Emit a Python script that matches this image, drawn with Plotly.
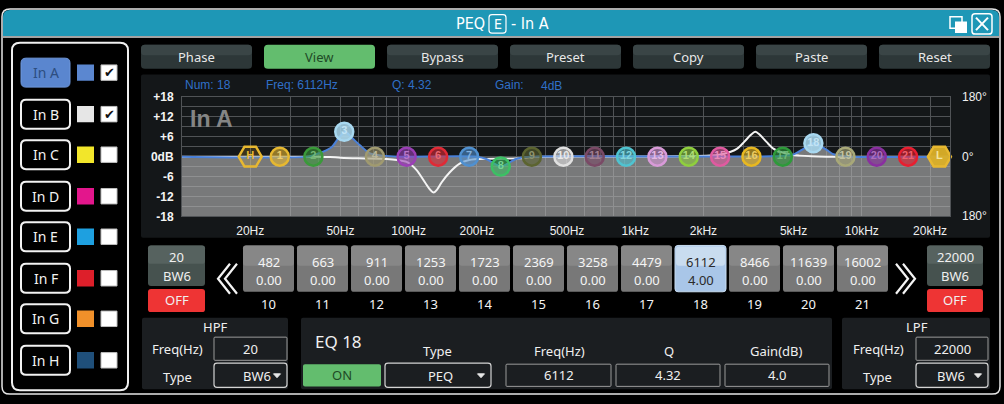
import math
import plotly.graph_objects as go

W, H = 1004, 404

# ---------------- data ----------------
band_nums = list(range(1, 22))
band_freqs = [27, 38, 52, 71, 98, 135, 185, 255, 350, 482, 663, 911, 1253, 1723,
              2369, 3258, 4479, 6112, 8466, 11639, 16002]
band_gains = [0, 0, 7.5, 0, 0, 0, 0, -3, 0, 0, 0, 0, 0, 0,
              0, 0, 0, 4, 0, 0, 0]
band_colors = ["#e6b830", "#3a9a3a", "#a8d8f0", "#a09a70", "#9a3fb5", "#e02a36",
               "#4f90d0", "#3cc064", "#5c6430", "#e0e0e0", "#7a4a66", "#4fc3d0",
               "#d89ad8", "#8fcf3e", "#e05aa0", "#e8b820", "#2e9a3a", "#a8d8f0",
               "#a8a878", "#8a2fa0", "#e81e30"]
selected_band = 18
hpf_freq, hpf_type = 20, "BW6"
lpf_freq, lpf_type = 22000, "BW6"
sel_q, sel_type = 4.32, "PEQ"

strip_first = 10  # first band shown in strip

# In A response (blue)
curve_a_freq = [10, 36, 39, 42, 45.8, 49, 52.5, 56, 61, 67.6, 77, 90, 200, 220, 240,
                255, 272, 295, 320, 350, 4000, 4500, 4980, 5460, 6112, 6970, 7500,
                8100, 8600, 24500]
curve_a_db = [0, 0, 0.7, 1.5, 2.9, 5.5, 7.5, 5.8, 3.4, 1.0, 0.3, 0, 0, -0.7, -2.2,
              -3.0, -2.2, -0.8, -0.2, 0, 0.1, 0.3, 0.6, 2.1, 4.0, 2.1, 0.7,
              0.3, 0, 0]
# In B response (white)
curve_b_freq = [10, 40, 45, 50, 60, 80, 89, 98, 108, 118, 124, 129, 134, 140, 152,
                168, 185, 220, 310, 340, 380, 2310, 2640, 2820, 3020, 3230, 3390,
                3556, 3806, 4070, 4356, 4980, 5300, 6000, 7000, 24500]
curve_b_db = [0, 0, -0.1, -0.3, -0.5, -0.7, -1.0, -1.6, -3.9, -7.7, -9.8, -10.8,
              -9.8, -7.7, -4.7, -2.1, -1.0, -0.6, -0.5, -0.2, 0, 0.5, 1.45, 2.4,
              4.35, 6.5, 7.5, 6.5, 4.35, 2.4, 1.45, 0.5, 0.3, 0.1, 0, 0]

f_min, f_max = 10, 24500
db_min, db_max = -18, 18
x_tick_vals = [20, 50, 100, 200, 500, 1000, 2000, 5000, 10000, 20000]
x_tick_text = ["20Hz", "50Hz", "100Hz", "200Hz", "500Hz", "1kHz", "2kHz", "5kHz",
               "10kHz", "20kHz"]
x_minor_vals = [10, 30, 40, 60, 70, 80, 90, 300, 400, 600, 700, 800, 900,
                3000, 4000, 6000, 7000, 8000, 9000]
y_tick_vals = [18, 12, 6, 0, -6, -12, -18]
y_tick_text = ["+18", "+12", "+6", "0dB", "-6", "-12", "-18"]
phase_labels = ["180°", "0°", "180°"]

channels = ["In A", "In B", "In C", "In D", "In E", "In F", "In G", "In H"]
channel_colors = ["#5b87d0", "#e6e6e6", "#f2e62a", "#e3168c", "#1ea0e0",
                  "#dd1f2a", "#f0902a", "#1f4f7a"]
channel_checked = [True, True, False, False, False, False, False, False]
top_buttons = ["Phase", "View", "Bypass", "Preset", "Copy", "Paste", "Reset"]
active_button = "View"

# ---------------- helpers ----------------
UI = "Noto Sans, Open Sans, sans-serif"
AR = "Liberation Sans, Arial, sans-serif"
shapes, annotations = [], []


def X(px):
    return px / W


def Y(py):
    return 1 - py / H


def rrect(x0, y0, x1, y1, r=4, fill=None, line=None, lw=1.0, layer="below"):
    r = min(r, (x1 - x0) / 2, (y1 - y0) / 2)
    p = (f"M{X(x0+r)},{Y(y0)} L{X(x1-r)},{Y(y0)} Q{X(x1)},{Y(y0)} {X(x1)},{Y(y0+r)} "
         f"L{X(x1)},{Y(y1-r)} Q{X(x1)},{Y(y1)} {X(x1-r)},{Y(y1)} L{X(x0+r)},{Y(y1)} "
         f"Q{X(x0)},{Y(y1)} {X(x0)},{Y(y1-r)} L{X(x0)},{Y(y0+r)} Q{X(x0)},{Y(y0)} {X(x0+r)},{Y(y0)} Z")
    shapes.append(dict(type="path", xref="paper", yref="paper", path=p,
                       fillcolor=fill or "rgba(0,0,0,0)",
                       line=dict(color=line or "rgba(0,0,0,0)", width=lw if line else 0),
                       layer=layer))


def poly(pts, color, width=1.5, fill=None, closed=False, layer="above"):
    p = "M" + " L".join(f"{X(a)},{Y(b)}" for a, b in pts) + (" Z" if closed else "")
    shapes.append(dict(type="path", xref="paper", yref="paper", path=p,
                       fillcolor=fill or "rgba(0,0,0,0)",
                       line=dict(color=color, width=width), layer=layer))


def txt(x, y, s, size=13, color="#f0f0f0", family=UI, xanchor="center", weight="normal"):
    annotations.append(dict(x=X(x), y=Y(y), xref="paper", yref="paper", text=s,
                            showarrow=False, xanchor=xanchor, yanchor="middle",
                            font=dict(size=size, color=color, family=family, weight=weight)))


def mix(c, t):
    c = c.lstrip("#")
    r, g, b = int(c[0:2], 16), int(c[2:4], 16), int(c[4:6], 16)
    r, g, b = [int(v + (255 - v) * t) for v in (r, g, b)]
    return f"rgb({r},{g},{b})"


def rgba(c, a):
    c = c.lstrip("#")
    return f"rgba({int(c[0:2],16)},{int(c[2:4],16)},{int(c[4:6],16)},{a})"


# ---------------- window chrome ----------------
TEAL = "#1e97b6"
rrect(2, 2, 1000, 401, r=8, fill="#000000", line="#e6e6e6", lw=1.5)
rrect(3, 3, 999, 30, r=7, fill=TEAL)
rrect(3, 14, 999, 30, r=0, fill=TEAL)
poly([(3, 31), (999, 31)], "#d8d8d8", 1.5, layer="below")

TITLE_FONT = "Liberation Sans Narrow, DejaVu Sans Condensed, Roboto Condensed, Arial Narrow, sans-serif"
txt(487, 17, "PEQ", 16, "#ffffff", TITLE_FONT, xanchor="right")
rrect(489, 8, 506, 27, r=3, line="#ffffff", lw=1.2, layer="above")
txt(497.5, 17.5, "E", 14, "#ffffff", TITLE_FONT)
txt(509, 17, "- In A", 16, "#ffffff", TITLE_FONT, xanchor="left")
# restore / close icons
rrect(950, 10, 962, 22, r=0, line="#ffffff", lw=1.5, layer="above")
rrect(955, 15, 967, 27, r=0, fill="#ffffff", layer="above")
rrect(972, 7, 992, 28, r=3, line="#ffffff", lw=1.5, layer="above")
poly([(976, 11), (988, 24)], "#ffffff", 2)
poly([(988, 11), (976, 24)], "#ffffff", 2)

# ---------------- left channel panel ----------------
rrect(12, 37, 128, 397, r=8, fill="#000000", line="#f0f0f0", lw=2)
row_y = [68, 111, 153, 196, 238, 281, 323, 366]
for name, col, chk, cy in zip(channels, channel_colors, channel_checked, row_y):
    if name == "In A":
        rrect(21, cy - 15, 70, cy + 15, r=5, fill="#5a86cf", line="#6f98dc", lw=1)
        txt(45.5, cy, name, 14, "#2d4e80")
    else:
        rrect(21, cy - 15, 70, cy + 15, r=5, fill="#000000", line="#f2f2f2", lw=2)
        txt(45.5, cy, name, 14, "#f2f2f2")
    rrect(77, cy - 8.5, 94, cy + 8.5, r=0, fill=col)
    rrect(101, cy - 8, 117, cy + 8, r=0, fill="#ffffff", line="#bdbdbd", lw=1)
    if chk:
        txt(109, cy, "✔", 13, "#111111", "DejaVu Sans")

# ---------------- top buttons ----------------
for i, b in enumerate(top_buttons):
    x0 = 141 + 123 * i
    if b == active_button:
        rrect(x0, 39, x0 + 111, 64, r=4, fill="#63bd6e")
        txt(x0 + 55.5, 51.5, b, 13, "#1f4a26")
    else:
        rrect(x0, 39, x0 + 111, 64, r=4, fill="#2d3738")
        rrect(x0, 39, x0 + 111, 50, r=4, fill="#3a4546")
        txt(x0 + 55.5, 51.5, b, 13, "#e8e8e8")

# ---------------- graph panel ----------------
rrect(141, 70, 990, 239, r=2, fill="#141719")
sel_i = band_nums.index(selected_band)
INFO = "#3070c8"
txt(183, 81, f"Num: {selected_band}", 12, INFO, AR, xanchor="left")
txt(264, 81, f"Freq: {band_freqs[sel_i]}Hz", 12, INFO, AR, xanchor="left")
txt(390, 81, f"Q: {sel_q}", 12, INFO, AR, xanchor="left")
txt(493, 81, "Gain:", 12, INFO, AR, xanchor="left")
txt(539, 82, f"{band_gains[sel_i]:g}dB", 12, INFO, AR, xanchor="left")
txt(188, 116.5, "In A", 23, "#858585", AR, xanchor="left", weight="bold")
for lab, yy in zip(phase_labels, [93, 155, 216]):
    txt(960, yy, lab, 12, "#f0f0f0", AR, xanchor="left")

# ---------------- band strip ----------------
def chevrons(x_base, tip_dx):
    for k in (0, 7):
        xb = x_base + k
        poly([(xb, 266), (xb + tip_dx, 281.5), (xb, 297)], "#f4f4f4", 2.2)


rrect(148, 247, 205, 289, r=3, fill="#46524f")
rrect(148, 247, 205, 266, r=3, fill="#56625f")
txt(176.5, 259, str(hpf_freq), 13)
txt(176.5, 279, hpf_type, 13)
rrect(148, 292, 205, 316, r=3, fill="#ee3434")
txt(176.5, 304, "OFF", 13)
chevrons(230, -12)

for j, n in enumerate(band_nums[strip_first - 1:]):
    bi = band_nums.index(n)
    x0 = 243 + 54 * j
    if n == selected_band:
        rrect(x0, 247, x0 + 51, 295, r=3, fill="#a9c6e8", line="#c8dcf0", lw=1)
        rrect(x0 + 1, 248, x0 + 50, 268, r=3, fill="#c9dcef")
        tc = "#2a2a2a"
    else:
        rrect(x0, 247, x0 + 51, 295, r=3, fill="#787878")
        rrect(x0, 247, x0 + 51, 268, r=3, fill="#878787")
        tc = "#f4f4f4"
    txt(x0 + 25.5, 264, str(band_freqs[bi]), 13, tc)
    txt(x0 + 25.5, 283, f"{band_gains[bi]:.2f}", 13, tc)
    txt(x0 + 25.5, 308, str(n), 13, "#f4f4f4")

chevrons(896, 12)
rrect(927, 247, 983, 289, r=3, fill="#46524f")
rrect(927, 247, 983, 266, r=3, fill="#56625f")
txt(955, 259, str(lpf_freq), 13)
txt(955, 279, lpf_type, 13)
rrect(927, 292, 983, 316, r=3, fill="#ee3434")
txt(955, 304, "OFF", 13)

# ---------------- bottom panels ----------------
PANEL = "#1b1e21"


def dropdown(x0, x1, label, lx):
    rrect(x0, 369, x1, 394, r=3, line="#d4d4d4", lw=1.2, layer="above")
    txt(lx, 382, label, 13)
    ax = x1 - 10
    poly([(ax - 3.5, 380), (ax + 3.5, 380), (ax, 384)], "#e8e8e8", 1, fill="#e8e8e8", closed=True)


def inbox(x0, y0, x1, y1, label):
    rrect(x0, y0, x1, y1, r=1, line="#9a9a9a", lw=1, layer="above")
    txt((x0 + x1) / 2, (y0 + y1) / 2, label, 13)


rrect(142, 322, 288, 396, r=2, fill=PANEL)
txt(215, 332, "HPF", 13)
txt(177, 354, "Freq(Hz)", 13)
inbox(214, 342, 287, 366, str(hpf_freq))
txt(177.5, 383, "Type", 13)
dropdown(214, 287, hpf_type, 257)

rrect(301, 322, 832, 396, r=2, fill=PANEL)
txt(313, 346, f"EQ {selected_band}", 17, xanchor="left")
rrect(303, 370, 381, 393, r=2, fill="#63bd6e")
txt(342, 381.5, "ON", 13, "#1f4a26")
txt(437, 356, "Type", 13)
dropdown(385, 491, sel_type, 440)
txt(559, 356, "Freq(Hz)", 13)
inbox(506, 370, 611, 393, str(band_freqs[sel_i]))
txt(669, 356, "Q", 13)
inbox(616, 370, 720, 393, f"{sel_q}")
txt(776, 356, "Gain(dB)", 13)
inbox(725, 370, 829, 393, f"{band_gains[sel_i]:.1f}")

rrect(842, 322, 990, 396, r=2, fill=PANEL)
txt(917, 332, "LPF", 13)
txt(878, 354, "Freq(Hz)", 13)
inbox(916, 342, 988, 366, str(lpf_freq))
txt(877.5, 383, "Type", 13)
dropdown(916, 988, lpf_type, 951)

# ---------------- plot ----------------
fig = go.Figure()
fig.add_trace(go.Scatter(x=[f_min, f_max], y=[db_min, db_min], mode="lines",
                         line=dict(width=0), hoverinfo="skip", showlegend=False))
fig.add_trace(go.Scatter(x=curve_a_freq, y=curve_a_db, mode="lines", fill="tonexty",
                         fillcolor="rgba(182,182,182,0.62)",
                         line=dict(width=0, shape="spline", smoothing=0.8),
                         hoverinfo="skip", showlegend=False))
fig.add_trace(go.Scatter(x=curve_b_freq, y=curve_b_db, mode="lines",
                         line=dict(color="#f4f4f4", width=2, shape="spline", smoothing=0.8),
                         showlegend=False, name="In B"))
fig.add_trace(go.Scatter(x=curve_a_freq, y=curve_a_db, mode="lines",
                         line=dict(color="#4a80d8", width=2, shape="spline", smoothing=0.8),
                         showlegend=False, name="In A"))
# filter nodes
fig.add_trace(go.Scatter(
    x=[hpf_freq, lpf_freq], y=[0, 0], mode="markers+text", text=["H", "L"],
    textposition="middle center",
    textfont=dict(size=11, color=["#e8b830", "#f4e4a0"], family=AR, weight="bold"),
    marker=dict(symbol="hexagon2", size=23,
                color=["rgba(232,184,48,0.18)", "rgba(220,176,40,0.95)"],
                line=dict(color="#e8b830", width=2.5)),
    cliponaxis=False, showlegend=False))
fig.add_trace(go.Scatter(
    x=band_freqs, y=band_gains, mode="markers+text", text=[str(n) for n in band_nums],
    textposition="middle center",
    textfont=dict(size=11, color=[mix(c, 0.3) for c in band_colors], family=AR, weight="bold"),
    marker=dict(symbol="circle", size=18,
                color=[rgba(c, 0.85 if c == "#a8d8f0" else 0.6) for c in band_colors],
                line=dict(color=band_colors, width=2.5)),
    cliponaxis=False, showlegend=False))

GRID = "#505356"
fig.update_layout(
    width=W, height=H, margin=dict(l=0, r=0, t=0, b=0),
    paper_bgcolor="#000000", plot_bgcolor="#141719",
    shapes=shapes, annotations=annotations, showlegend=False,
    xaxis=dict(type="log", range=[math.log10(f_min), math.log10(f_max)],
               domain=[X(182), X(950)], tickmode="array", tickvals=x_tick_vals,
               ticktext=x_tick_text, showgrid=True, gridcolor=GRID, gridwidth=1,
               ticks="outside", ticklen=3, tickcolor="rgba(0,0,0,0)",
               tickfont=dict(size=12, color="#f0f0f0", family=AR),
               minor=dict(tickmode="array", tickvals=x_minor_vals, showgrid=True,
                          gridcolor=GRID, gridwidth=1, ticks=""),
               showline=True, linecolor=GRID, mirror=True, zeroline=False, fixedrange=True),
    yaxis=dict(range=[db_min, db_max], domain=[Y(217), Y(93)], tickmode="array",
               tickvals=y_tick_vals, ticktext=y_tick_text, showgrid=True,
               gridcolor=GRID, gridwidth=1, ticks="outside", ticklen=5,
               tickcolor="rgba(0,0,0,0)",
               tickfont=dict(size=12, color="#f4f4f4", family=AR, weight="bold"),
               minor=dict(dtick=3, showgrid=True, gridcolor=GRID, gridwidth=1, ticks=""),
               showline=True, linecolor=GRID, mirror=True, zeroline=False, fixedrange=True),
)

fig.write_html("out.html", config={"displayModeBar": False},
               post_script="document.body.style.margin='0';document.body.style.overflow='hidden';")
